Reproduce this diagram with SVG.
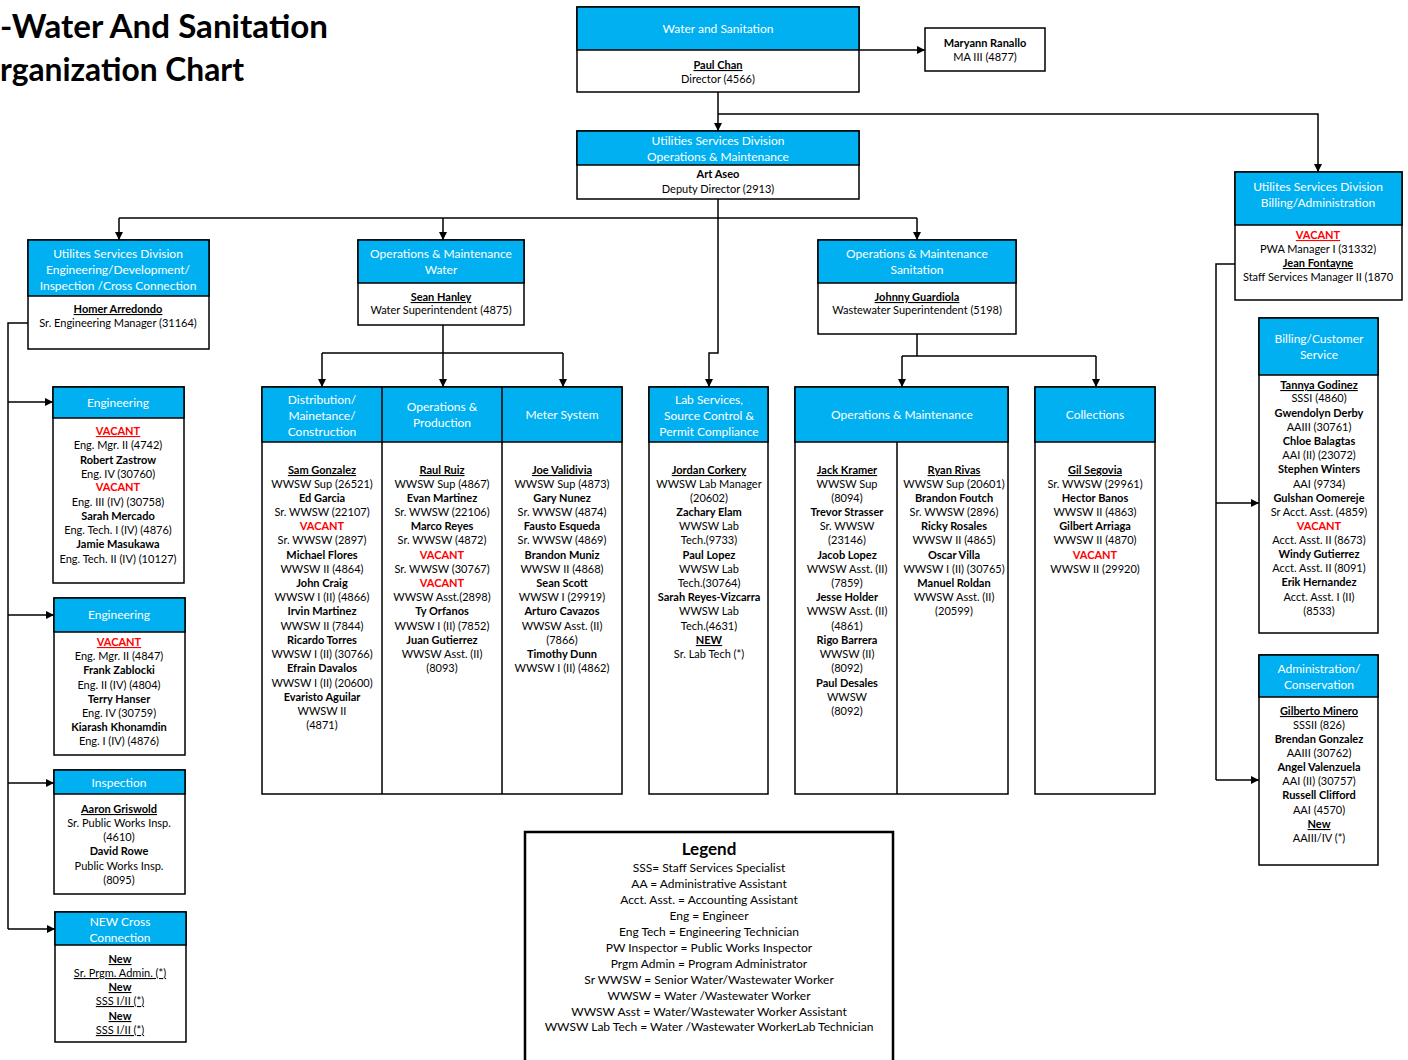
<svg xmlns="http://www.w3.org/2000/svg" width="1408" height="1060" viewBox="0 0 1408 1060">
<style>
text{font-family:Lato,"Liberation Sans",sans-serif;font-size:11px;text-anchor:middle;fill:#000}
.hd{fill:#00B0F0;stroke:#000;stroke-width:1.5}
.bx{fill:#fff;stroke:#000;stroke-width:1.5}
.ht{fill:#fff;font-size:12px}
.n{font-weight:bold}
.u{text-decoration:underline}
.r{fill:#FF0000;font-weight:bold}
.c{fill:none;stroke:#000;stroke-width:1.5}
.title{font-family:Lato,"Liberation Sans",sans-serif;font-size:32px;font-weight:bold;text-anchor:start}
.lg{font-size:12px}
</style>
<defs>
<marker id="ar" viewBox="0 0 10 10" refX="10" refY="5" markerWidth="8" markerHeight="8" markerUnits="userSpaceOnUse" orient="auto">
<path d="M0,0 L10,5 L0,10 z" fill="#000"/>
</marker>
</defs>
<rect width="1408" height="1060" fill="#fff"/>
<g id="title">
<text class="title" x="0" y="38" textLength="328" lengthAdjust="spacingAndGlyphs">-Water And Sanitation</text>
<text class="title" x="0" y="81" textLength="244" lengthAdjust="spacingAndGlyphs">rganization Chart</text>
</g>
<g id="connectors">
<path class="c" d="M859,50 H925" marker-end="url(#ar)"/>
<path class="c" d="M718,92 V131" marker-end="url(#ar)"/>
<path class="c" d="M718,114 H1318 V172" marker-end="url(#ar)"/>
<path class="c" d="M718,199 V353 H709 V387" marker-end="url(#ar)"/>
<path class="c" d="M119,218 H917"/>
<path class="c" d="M119,218 V240" marker-end="url(#ar)"/>
<path class="c" d="M443,218 V240" marker-end="url(#ar)"/>
<path class="c" d="M917,218 V240" marker-end="url(#ar)"/>
<path class="c" d="M28,323 H8 V929"/>
<path class="c" d="M8,402 H53" marker-end="url(#ar)"/>
<path class="c" d="M8,615 H54" marker-end="url(#ar)"/>
<path class="c" d="M8,783 H54" marker-end="url(#ar)"/>
<path class="c" d="M8,929 H55" marker-end="url(#ar)"/>
<path class="c" d="M443,325 V353 M322,353 H563"/>
<path class="c" d="M322,353 V387" marker-end="url(#ar)"/>
<path class="c" d="M443,353 V387" marker-end="url(#ar)"/>
<path class="c" d="M563,353 V387" marker-end="url(#ar)"/>
<path class="c" d="M917,334 V356 M902,356 H1096"/>
<path class="c" d="M902,356 V387" marker-end="url(#ar)"/>
<path class="c" d="M1096,356 V387" marker-end="url(#ar)"/>
<path class="c" d="M1235,264 H1216 V780"/>
<path class="c" d="M1216,503 H1259" marker-end="url(#ar)"/>
<path class="c" d="M1216,780 H1259" marker-end="url(#ar)"/>
</g>
<g id="water-sanitation">
<rect class="bx" x="577" y="7" width="282" height="85"/>
<rect class="hd" x="577" y="7" width="282" height="43"/>
<text class="ht" x="718" y="33">Water and Sanitation</text>
<text class="n u" x="718" y="69">Paul Chan</text>
<text x="718" y="83">Director (4566)</text>
</g>
<g id="maryann">
<rect class="bx" x="925" y="28" width="120" height="43"/>
<text class="n" x="985" y="47">Maryann Ranallo</text>
<text x="985" y="61">MA III (4877)</text>
</g>
<g id="usd-om">
<rect class="bx" x="577" y="131" width="282" height="68"/>
<rect class="hd" x="577" y="131" width="282" height="34"/>
<text class="ht" x="718" y="145">Utilities Services Division</text>
<text class="ht" x="718" y="161">Operations &amp; Maintenance</text>
<text class="n" x="718" y="178">Art Aseo</text>
<text x="718" y="193">Deputy Director (2913)</text>
</g>
<g id="usd-eng">
<rect class="bx" x="28" y="240" width="181" height="109"/>
<rect class="hd" x="28" y="240" width="181" height="56"/>
<text class="ht" x="118" y="258">Utilites Services Division</text>
<text class="ht" x="118" y="274">Engineering/Development/</text>
<text class="ht" x="118" y="290">Inspection /Cross Connection</text>
<text class="n u" x="118" y="313">Homer Arredondo</text>
<text x="118" y="327">Sr. Engineering Manager  (31164)</text>
</g>
<g id="om-water">
<rect class="bx" x="358" y="240" width="166" height="85"/>
<rect class="hd" x="358" y="240" width="166" height="43"/>
<text class="ht" x="441" y="258">Operations &amp; Maintenance</text>
<text class="ht" x="441" y="274">Water</text>
<text class="n u" x="441" y="301">Sean Hanley</text>
<text x="441" y="314">Water Superintendent (4875)</text>
</g>
<g id="om-sanitation">
<rect class="bx" x="818" y="240" width="198" height="94"/>
<rect class="hd" x="818" y="240" width="198" height="43"/>
<text class="ht" x="917" y="258">Operations &amp; Maintenance</text>
<text class="ht" x="917" y="274">Sanitation</text>
<text class="n u" x="917" y="301">Johnny Guardiola</text>
<text x="917" y="314">Wastewater Superintendent (5198)</text>
</g>
<g id="usd-billing">
<rect class="bx" x="1235" y="172" width="167" height="128"/>
<rect class="hd" x="1235" y="172" width="167" height="53"/>
<text class="ht" x="1318" y="191">Utilites Services Division</text>
<text class="ht" x="1318" y="207">Billing/Administration</text>
<text class="r u" x="1318" y="239">VACANT</text>
<text x="1318" y="253">PWA Manager I (31332)</text>
<text class="n u" x="1318" y="267">Jean Fontayne</text>
<text x="1318" y="281">Staff Services Manager II (1870</text>
</g>
<g id="engineering-1">
<rect class="bx" x="53" y="387" width="131" height="196"/>
<rect class="hd" x="53" y="387" width="131" height="31"/>
<text class="ht" x="118" y="407">Engineering</text>
<text class="r u" x="118" y="435">VACANT</text>
<text x="118" y="449">Eng. Mgr. II (4742)</text>
<text class="n" x="118" y="464">Robert Zastrow</text>
<text x="118" y="478">Eng. IV (30760)</text>
<text class="r" x="118" y="491">VACANT</text>
<text x="118" y="506">Eng. III (IV) (30758)</text>
<text class="n" x="118" y="520">Sarah Mercado</text>
<text x="118" y="534">Eng. Tech. I (IV) (4876)</text>
<text class="n" x="118" y="548">Jamie Masukawa</text>
<text x="118" y="563">Eng. Tech. II (IV) (10127)</text>
</g>
<g id="engineering-2">
<rect class="bx" x="54" y="598" width="131" height="157"/>
<rect class="hd" x="54" y="598" width="131" height="34"/>
<text class="ht" x="119" y="619">Engineering</text>
<text class="r u" x="119" y="646">VACANT</text>
<text x="119" y="660">Eng. Mgr. II (4847)</text>
<text class="n" x="119" y="674">Frank Zablocki</text>
<text x="119" y="689">Eng. II (IV) (4804)</text>
<text class="n" x="119" y="703">Terry Hanser</text>
<text x="119" y="717">Eng. IV (30759)</text>
<text class="n" x="119" y="731">Kiarash Khonamdin</text>
<text x="119" y="745">Eng. I (IV) (4876)</text>
</g>
<g id="inspection">
<rect class="bx" x="54" y="770" width="131" height="124"/>
<rect class="hd" x="54" y="770" width="131" height="24"/>
<text class="ht" x="119" y="787">Inspection</text>
<text class="n u" x="119" y="813">Aaron Griswold</text>
<text x="119" y="827">Sr. Public Works Insp.</text>
<text x="119" y="841">(4610)</text>
<text class="n" x="119" y="855">David Rowe</text>
<text x="119" y="870">Public Works Insp.</text>
<text x="119" y="884">(8095)</text>
</g>
<g id="cross-connection">
<rect class="bx" x="55" y="912" width="131" height="130"/>
<rect class="hd" x="55" y="912" width="131" height="33"/>
<text class="ht" x="120" y="926">NEW Cross</text>
<text class="ht" x="120" y="942">Connection</text>
<text class="n u" x="120" y="963">New</text>
<text class="u" x="120" y="977">Sr. Prgm. Admin. (*)</text>
<text class="n u" x="120" y="991">New</text>
<text class="u" x="120" y="1005">SSS I/II (*)</text>
<text class="n u" x="120" y="1020">New</text>
<text class="u" x="120" y="1034">SSS I/II (*)</text>
</g>
<g id="water-sections">
<rect class="bx" x="262" y="387" width="360" height="407"/>
<rect class="hd" x="262" y="387" width="360" height="55"/>
<path class="c" d="M382,387 V794 M502,387 V794"/>
<text class="ht" x="322" y="404">Distribution/</text>
<text class="ht" x="322" y="420">Mainetance/</text>
<text class="ht" x="322" y="436">Construction</text>
<text class="ht" x="442" y="411">Operations &amp;</text>
<text class="ht" x="442" y="427">Production</text>
<text class="ht" x="562" y="419">Meter System</text>
<g id="distribution">
<text class="n u" x="322" y="474">Sam Gonzalez</text>
<text x="322" y="488">WWSW Sup (26521)</text>
<text class="n" x="322" y="502">Ed Garcia</text>
<text x="322" y="516">Sr. WWSW (22107)</text>
<text class="r" x="322" y="530">VACANT</text>
<text x="322" y="544">Sr. WWSW (2897)</text>
<text class="n" x="322" y="559">Michael Flores</text>
<text x="322" y="573">WWSW II (4864)</text>
<text class="n" x="322" y="587">John Craig</text>
<text x="322" y="601">WWSW I (II) (4866)</text>
<text class="n" x="322" y="615">Irvin Martinez</text>
<text x="322" y="630">WWSW II (7844)</text>
<text class="n" x="322" y="644">Ricardo Torres</text>
<text x="322" y="658">WWSW I (II) (30766)</text>
<text class="n" x="322" y="672">Efrain Davalos</text>
<text x="322" y="687">WWSW I (II) (20600)</text>
<text class="n" x="322" y="701">Evaristo Aguilar</text>
<text x="322" y="715">WWSW II</text>
<text x="322" y="729">(4871)</text>
</g>
<g id="production">
<text class="n u" x="442" y="474">Raul Ruiz</text>
<text x="442" y="488">WWSW Sup (4867)</text>
<text class="n" x="442" y="502">Evan Martinez</text>
<text x="442" y="516">Sr. WWSW (22106)</text>
<text class="n" x="442" y="530">Marco Reyes</text>
<text x="442" y="544">Sr. WWSW (4872)</text>
<text class="r" x="442" y="559">VACANT</text>
<text x="442" y="573">Sr. WWSW (30767)</text>
<text class="r" x="442" y="587">VACANT</text>
<text x="442" y="601">WWSW Asst.(2898)</text>
<text class="n" x="442" y="615">Ty Orfanos</text>
<text x="442" y="630">WWSW I  (II) (7852)</text>
<text class="n" x="442" y="644">Juan Gutierrez</text>
<text x="442" y="658">WWSW Asst. (II)</text>
<text x="442" y="672">(8093)</text>
</g>
<g id="meter">
<text class="n u" x="562" y="474">Joe Validivia</text>
<text x="562" y="488">WWSW Sup (4873)</text>
<text class="n" x="562" y="502">Gary Nunez</text>
<text x="562" y="516">Sr. WWSW (4874)</text>
<text class="n" x="562" y="530">Fausto Esqueda</text>
<text x="562" y="544">Sr. WWSW (4869)</text>
<text class="n" x="562" y="559">Brandon Muniz</text>
<text x="562" y="573">WWSW II (4868)</text>
<text class="n" x="562" y="587">Sean Scott</text>
<text x="562" y="601">WWSW I (29919)</text>
<text class="n" x="562" y="615">Arturo Cavazos</text>
<text x="562" y="630">WWSW Asst. (II)</text>
<text x="562" y="644">(7866)</text>
<text class="n" x="562" y="658">Timothy Dunn</text>
<text x="562" y="672">WWSW I  (II) (4862)</text>
</g>
</g>
<g id="lab-services">
<rect class="bx" x="649" y="387" width="119" height="407"/>
<rect class="hd" x="649" y="387" width="119" height="55"/>
<text class="ht" x="709" y="404">Lab Services,</text>
<text class="ht" x="709" y="420">Source Control &amp;</text>
<text class="ht" x="709" y="436">Permit Compliance</text>
<text class="n u" x="709" y="474">Jordan Corkery</text>
<text x="709" y="488">WWSW Lab Manager</text>
<text x="709" y="502">(20602)</text>
<text class="n" x="709" y="516">Zachary Elam</text>
<text x="709" y="530">WWSW Lab</text>
<text x="709" y="544">Tech.(9733)</text>
<text class="n" x="709" y="559">Paul Lopez</text>
<text x="709" y="573">WWSW Lab</text>
<text x="709" y="587">Tech.(30764)</text>
<text class="n" x="709" y="601">Sarah Reyes-Vizcarra</text>
<text x="709" y="615">WWSW Lab</text>
<text x="709" y="630">Tech.(4631)</text>
<text class="n u" x="709" y="644">NEW</text>
<text x="709" y="658">Sr. Lab Tech (*)</text>
</g>
<g id="sanitation-om">
<rect class="bx" x="795" y="387" width="213" height="407"/>
<rect class="hd" x="795" y="387" width="213" height="55"/>
<path class="c" d="M897,442 V794"/>
<text class="ht" x="902" y="419">Operations &amp; Maintenance</text>
<g id="om-col1">
<text class="n u" x="847" y="474">Jack Kramer</text>
<text x="847" y="488">WWSW Sup</text>
<text x="847" y="502">(8094)</text>
<text class="n" x="847" y="516">Trevor Strasser</text>
<text x="847" y="530">Sr. WWSW</text>
<text x="847" y="544">(23146)</text>
<text class="n" x="847" y="559">Jacob Lopez</text>
<text x="847" y="573">WWSW Asst. (II)</text>
<text x="847" y="587">(7859)</text>
<text class="n" x="847" y="601">Jesse Holder</text>
<text x="847" y="615">WWSW Asst.  (II)</text>
<text x="847" y="630">(4861)</text>
<text class="n" x="847" y="644">Rigo Barrera</text>
<text x="847" y="658">WWSW (II)</text>
<text x="847" y="672">(8092)</text>
<text class="n" x="847" y="687">Paul Desales</text>
<text x="847" y="701">WWSW</text>
<text x="847" y="715">(8092)</text>
</g>
<g id="om-col2">
<text class="n u" x="954" y="474">Ryan Rivas</text>
<text x="954" y="488">WWSW Sup (20601)</text>
<text class="n" x="954" y="502">Brandon Foutch</text>
<text x="954" y="516">Sr. WWSW (2896)</text>
<text class="n" x="954" y="530">Ricky Rosales</text>
<text x="954" y="544">WWSW II (4865)</text>
<text class="n" x="954" y="559">Oscar Villa</text>
<text x="954" y="573">WWSW I (II) (30765)</text>
<text class="n" x="954" y="587">Manuel Roldan</text>
<text x="954" y="601">WWSW Asst. (II)</text>
<text x="954" y="615">(20599)</text>
</g>
</g>
<g id="collections">
<rect class="bx" x="1035" y="387" width="120" height="407"/>
<rect class="hd" x="1035" y="387" width="120" height="55"/>
<text class="ht" x="1095" y="419">Collections</text>
<text class="n u" x="1095" y="474">Gil Segovia</text>
<text x="1095" y="488">Sr. WWSW (29961)</text>
<text class="n" x="1095" y="502">Hector Banos</text>
<text x="1095" y="516">WWSW II (4863)</text>
<text class="n" x="1095" y="530">Gilbert Arriaga</text>
<text x="1095" y="544">WWSW II (4870)</text>
<text class="r" x="1095" y="559">VACANT</text>
<text x="1095" y="573">WWSW II (29920)</text>
</g>
<g id="billing-customer">
<rect class="bx" x="1259" y="318" width="119" height="315"/>
<rect class="hd" x="1259" y="318" width="119" height="57"/>
<text class="ht" x="1319" y="343">Billing/Customer</text>
<text class="ht" x="1319" y="359">Service</text>
<text class="n u" x="1319" y="389">Tannya Godinez</text>
<text x="1319" y="402">SSSI (4860)</text>
<text class="n" x="1319" y="417">Gwendolyn Derby</text>
<text x="1319" y="431">AAIII (30761)</text>
<text class="n" x="1319" y="445">Chloe Balagtas</text>
<text x="1319" y="459">AAI (II) (23072)</text>
<text class="n" x="1319" y="473">Stephen Winters</text>
<text x="1319" y="488">AAI (9734)</text>
<text class="n" x="1319" y="502">Gulshan Oomereje</text>
<text x="1319" y="516">Sr Acct. Asst. (4859)</text>
<text class="r" x="1319" y="530">VACANT</text>
<text x="1319" y="544">Acct. Asst. II (8673)</text>
<text class="n" x="1319" y="558">Windy Gutierrez</text>
<text x="1319" y="572">Acct. Asst. II (8091)</text>
<text class="n" x="1319" y="586">Erik Hernandez</text>
<text x="1319" y="601">Acct. Asst. I (II)</text>
<text x="1319" y="615">(8533)</text>
</g>
<g id="admin-conservation">
<rect class="bx" x="1259" y="655" width="119" height="210"/>
<rect class="hd" x="1259" y="655" width="119" height="42"/>
<text class="ht" x="1319" y="673">Administration/</text>
<text class="ht" x="1319" y="689">Conservation</text>
<text class="n u" x="1319" y="715">Gilberto Minero</text>
<text x="1319" y="729">SSSII (826)</text>
<text class="n" x="1319" y="743">Brendan Gonzalez</text>
<text x="1319" y="757">AAIII (30762)</text>
<text class="n" x="1319" y="771">Angel Valenzuela</text>
<text x="1319" y="785">AAI (II) (30757)</text>
<text class="n" x="1319" y="799">Russell Clifford</text>
<text x="1319" y="814">AAI (4570)</text>
<text class="n u" x="1319" y="828">New</text>
<text x="1319" y="842">AAIII/IV (*)</text>
</g>
<g id="legend">
<rect x="525" y="832" width="368" height="240" fill="#fff" stroke="#000" stroke-width="2.5"/>
<text class="n" x="709" y="855" style="font-size:17px">Legend</text>
<text class="lg" x="709" y="872">SSS= Staff Services Specialist</text>
<text class="lg" x="709" y="888">AA = Administrative Assistant</text>
<text class="lg" x="709" y="904">Acct. Asst. = Accounting Assistant</text>
<text class="lg" x="709" y="920">Eng = Engineer</text>
<text class="lg" x="709" y="936">Eng Tech = Engineering Technician</text>
<text class="lg" x="709" y="952">PW Inspector = Public Works Inspector</text>
<text class="lg" x="709" y="968">Prgm Admin = Program Administrator</text>
<text class="lg" x="709" y="984">Sr WWSW = Senior Water/Wastewater Worker</text>
<text class="lg" x="709" y="1000">WWSW = Water /Wastewater Worker</text>
<text class="lg" x="709" y="1016">WWSW Asst = Water/Wastewater Worker Assistant</text>
<text class="lg" x="709" y="1031">WWSW Lab Tech = Water /Wastewater WorkerLab Technician</text>
</g>
</svg>
